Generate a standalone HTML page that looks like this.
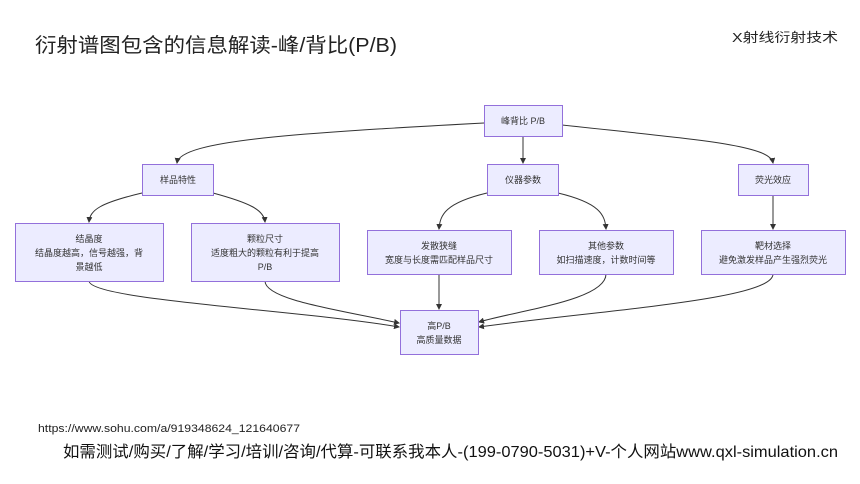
<!DOCTYPE html>
<html><head><meta charset="utf-8"><style>
html,body{margin:0;padding:0;background:#fff;}
svg{display:block;}
text{font-family:"Liberation Sans","Noto Sans CJK SC",sans-serif;}
</style></head><body>
<svg width="860" height="484" viewBox="0 0 860 484" xmlns="http://www.w3.org/2000/svg">
<defs><marker id="a" markerWidth="6" markerHeight="6" refX="5" refY="3" orient="auto"><path d="M0,0 L6,3 L0,6 z" fill="#333"/></marker></defs>
<text x="35" y="52" font-size="20" fill="#222" textLength="362" lengthAdjust="spacingAndGlyphs">衍射谱图包含的信息解读-峰/背比(P/B)</text>
<text x="732" y="42" font-size="13" fill="#222" textLength="106" lengthAdjust="spacingAndGlyphs">X射线衍射技术</text>
<g fill="none" stroke="#333" stroke-width="1" marker-end="url(#a)">
<path d="M484,123 C300,133 180,140 177,163"/>
<path d="M523,136 L523,163"/>
<path d="M562,125 C700,140 770,145 773,163"/>
<path d="M142,193 C100,203 90,210 89,222"/>
<path d="M213,193 C250,203 264,210 265,222"/>
<path d="M487,193 C445,203 440,215 439,229"/>
<path d="M558,193 C600,203 605,215 606,229"/>
<path d="M773,195 L773,229"/>
<path d="M89,281 C90,300 300,310 399,327"/>
<path d="M265,281 C265,300 340,310 399,323"/>
<path d="M439,274 L439,309"/>
<path d="M606,274 C606,300 520,310 479,322"/>
<path d="M773,274 C773,300 600,310 479,327"/>
</g>
<g fill="#ececff" stroke="#9370db" stroke-width="1">
<rect x="484.5" y="105.5" width="78" height="31"/>
<rect x="142.5" y="164.5" width="71" height="31"/>
<rect x="487.5" y="164.5" width="71" height="31"/>
<rect x="738.5" y="164.5" width="70" height="31"/>
<rect x="15.5" y="223.5" width="148" height="58"/>
<rect x="191.5" y="223.5" width="148" height="58"/>
<rect x="367.5" y="230.5" width="144" height="44"/>
<rect x="539.5" y="230.5" width="134" height="44"/>
<rect x="701.5" y="230.5" width="144" height="44"/>
<rect x="400.5" y="310.5" width="78" height="44"/>
</g>
<g font-size="9" fill="#333" text-anchor="middle">
<text x="523" y="124">峰背比 P/B</text>
<text x="178" y="183">样品特性</text>
<text x="523" y="183">仪器参数</text>
<text x="773" y="183">荧光效应</text>
<text x="89" y="242">结晶度</text>
<text x="89" y="256">结晶度越高，信号越强，背</text>
<text x="89" y="270">景越低</text>
<text x="265" y="242">颗粒尺寸</text>
<text x="265" y="256">适度粗大的颗粒有利于提高</text>
<text x="265" y="270">P/B</text>
<text x="439" y="249">发散狭缝</text>
<text x="439" y="263">宽度与长度需匹配样品尺寸</text>
<text x="606" y="249">其他参数</text>
<text x="606" y="263">如扫描速度，计数时间等</text>
<text x="773" y="249">靶材选择</text>
<text x="773" y="263">避免激发样品产生强烈荧光</text>
<text x="439" y="329">高P/B</text>
<text x="439" y="343">高质量数据</text>
</g>
<text x="38" y="432" font-size="11" fill="#222" textLength="262" lengthAdjust="spacingAndGlyphs">https://www.sohu.com/a/919348624_121640677</text>
<text x="63" y="457" font-size="16" fill="#111" textLength="775" lengthAdjust="spacingAndGlyphs">如需测试/购买/了解/学习/培训/咨询/代算-可联系我本人-(199-0790-5031)+V-个人网站www.qxl-simulation.cn</text>
</svg>
</body></html>
